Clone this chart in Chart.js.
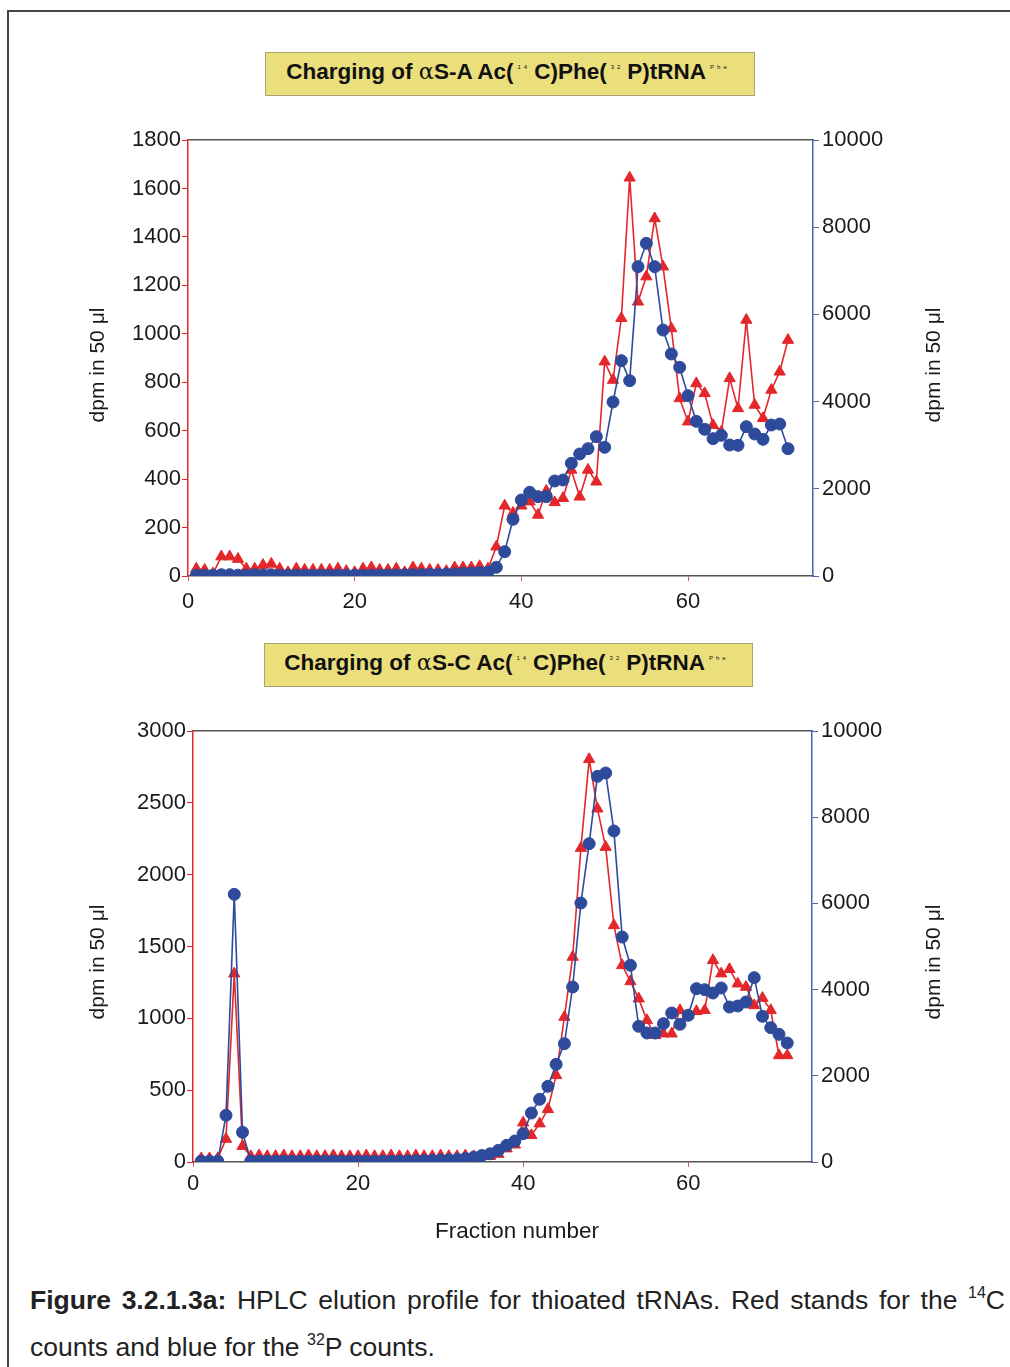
<!DOCTYPE html>
<html>
<head>
<meta charset="utf-8">
<script src="https://cdn.jsdelivr.net/npm/chart.js@4.4.0/dist/chart.umd.min.js"></script>
<style>
  body { margin: 0; background: #fff; width: 1010px; height: 1367px; position: relative; overflow: hidden;
         font-family: "Liberation Sans", Arial, sans-serif; color: #1a1a1a; }
  .frame-top { position: absolute; left: 7px; top: 10px; width: 1003px; height: 2px; background: #444; }
  .frame-left { position: absolute; left: 7px; top: 10px; width: 2px; height: 1357px; background: #444; }
  .titlebox { position: absolute; background: #ebdf7c; border: 1px solid #a9a273; font-weight: bold;
              font-size: 22.5px; color: #111; text-align: center; line-height: 36px; }
  .titlebox sup { font-size: 6px; font-weight: normal; letter-spacing: 3px; line-height: 0;
                  position: relative; top: -10px; vertical-align: baseline; padding: 0 4px; }
  .alpha { font-family: "DejaVu Serif", serif; font-weight: normal; }
  .ytitle { position: absolute; width: 200px; height: 24px; line-height: 24px; text-align: center;
            font-size: 21px; transform: rotate(-90deg); }
  .xtitle { position: absolute; width: 300px; text-align: center; font-size: 22.5px; }
  canvas { position: absolute; left: 0; }
  .caption { position: absolute; left: 30px; top: 1277px; width: 975px;
             font-size: 26.5px; line-height: 47px; color: #222; }
  .caption .l1 { text-align: justify; text-align-last: justify; }
  .caption sup { font-size: 16px; vertical-align: 11px; line-height: 0; }
</style>
</head>
<body>
<div class="frame-top"></div>
<div class="frame-left"></div>

<div class="titlebox" style="left:265px; top:52px; width:488px; height:42px;">Charging of <span class="alpha">α</span>S-A Ac(<sup>14</sup>C)Phe(<sup>32</sup>P)tRNA<sup>Phe</sup></div>
<div class="titlebox" style="left:264px; top:643px; width:487px; height:42px;">Charging of <span class="alpha">α</span>S-C Ac(<sup>14</sup>C)Phe(<sup>32</sup>P)tRNA<sup>Phe</sup></div>

<canvas id="chartTop" width="1010" height="540" style="top:100px;"></canvas>
<canvas id="chartBottom" width="1010" height="540" style="top:690px;"></canvas>

<div class="ytitle" style="left:-3px; top:353px;">dpm in 50 μl</div>
<div class="ytitle" style="left:833px; top:353px;">dpm in 50 μl</div>
<div class="ytitle" style="left:-3px; top:950px;">dpm in 50 μl</div>
<div class="ytitle" style="left:833px; top:950px;">dpm in 50 μl</div>
<div class="xtitle" style="left:367px; top:1218px;">Fraction number</div>

<div class="caption">
  <div class="l1"><b>Figure 3.2.1.3a:</b> HPLC elution profile for thioated tRNAs. Red stands for the <sup>14</sup>C</div>
  <div>counts and blue for the <sup>32</sup>P counts.</div>
</div>

<script>
// fraction numbers (x)
const fractions = [1, 2, 3, 4, 5, 6, 7, 8, 9, 10, 11, 12, 13, 14, 15, 16, 17, 18, 19, 20,
  21, 22, 23, 24, 25, 26, 27, 28, 29, 30, 31, 32, 33, 34, 35, 36, 37, 38, 39, 40,
  41, 42, 43, 44, 45, 46, 47, 48, 49, 50, 51, 52, 53, 54, 55, 56, 57, 58, 59, 60,
  61, 62, 63, 64, 65, 66, 67, 68, 69, 70, 71, 72];

// aS-A : 14C (red, left axis) and 32P (blue, right axis)
const topC14 = [30, 25, 10, 80, 80, 70, 30, 30, 45, 50,
  30, 15, 30, 25, 25, 25, 25, 30, 20, 15,
  30, 35, 25, 25, 30, 15, 35, 30, 25, 25,
  20, 35, 35, 35, 40, 30, 121, 290, 260, 290,
  307, 252, 351, 304, 321, 438, 327, 438, 389, 885,
  809, 1064, 1644, 1132, 1236, 1476, 1277, 1022, 733, 637,
  795, 754, 623, 595, 816, 692, 1057, 706, 651, 768,
  843, 974];
const topP32 = [20, 20, 20, 30, 30, 20, 20, 30, 30, 30,
  20, 20, 20, 20, 20, 20, 20, 20, 20, 20,
  20, 20, 25, 25, 25, 30, 30, 35, 40, 40,
  45, 50, 60, 70, 80, 90, 200, 558, 1300, 1743,
  1919, 1820, 1820, 2179, 2202, 2584, 2798, 2920, 3196, 2951,
  3991, 4939, 4480, 7095, 7630, 7095, 5642, 5092, 4786, 4136,
  3547, 3364, 3150, 3226, 3004, 2997, 3425, 3257, 3134, 3463,
  3486, 2920];

// aS-C
const botC14 = [25, 25, 25, 160, 1311, 110, 40, 45, 40, 40,
  45, 40, 40, 45, 40, 40, 45, 40, 40, 40,
  45, 40, 40, 45, 40, 40, 45, 40, 40, 45,
  40, 40, 45, 40, 40, 40, 55, 93, 120, 274,
  186, 267, 367, 603, 1009, 1427, 2185, 2803, 2459, 2192,
  1647, 1369, 1257, 1137, 986, 882, 893, 893, 1056, 1021,
  1049, 1056, 1404, 1311, 1341, 1241, 1218, 1090, 1141, 1056,
  742, 742];
const botP32 = [20, 20, 20, 1083, 6210, 690, 20, 20, 20, 20,
  20, 20, 20, 20, 20, 20, 20, 20, 20, 20,
  20, 20, 20, 20, 20, 25, 30, 35, 40, 45,
  50, 60, 80, 110, 150, 190, 270, 387, 487, 657,
  1137, 1454, 1756, 2266, 2746, 4060, 6009, 7386, 8948, 9026,
  7680, 5220, 4563, 3148, 2993, 2993, 3210, 3457, 3194, 3403,
  4022, 3998, 3921, 4037, 3596, 3619, 3712, 4277, 3380, 3117,
  2962, 2761];

// tick labels
const xTicks = [0, 20, 40, 60];
const topLeftTicks = [0, 200, 400, 600, 800, 1000, 1200, 1400, 1600, 1800];
const botLeftTicks = [0, 500, 1000, 1500, 2000, 2500, 3000];
const rightTicks = [0, 2000, 4000, 6000, 8000, 10000];

const RED = '#e3272b';
const BLUE = '#2d4a9b';
const FONT = '"Liberation Sans", Arial, sans-serif';

function pts(ys) {
  return fractions.map((f, i) => ({x: f, y: ys[i]}));
}

function setTicks(list) {
  return function(scale) { scale.ticks = list.map(v => ({value: v})); };
}

function plain(v) { return String(v); }

function make_chart(canvas_id, c14, p32, leftTicks, g) {
  return new Chart(document.getElementById(canvas_id), {
    type: 'line',
    data: {
      datasets: [{
        label: '32P',
        data: pts(p32),
        yAxisID: 'yR',
        borderColor: BLUE,
        backgroundColor: BLUE,
        borderWidth: 1.6,
        pointStyle: 'circle',
        pointRadius: 6,
        pointBorderWidth: 1
      }, {
        label: '14C',
        data: pts(c14),
        yAxisID: 'yL',
        borderColor: RED,
        backgroundColor: RED,
        borderWidth: 1.6,
        pointStyle: 'triangle',
        pointRadius: 6.5,
        pointBorderWidth: 1
      }]
    },
    options: {
      responsive: false,
      animation: false,
      devicePixelRatio: 1,
      layout: { padding: { left: 82, right: 62, top: g.top, bottom: 0 } },
      plugins: { legend: { display: false }, tooltip: { enabled: false } },
      scales: {
        x: {
          type: 'linear', position: 'bottom', min: 0, max: 75,
          afterBuildTicks: setTicks(xTicks),
          afterFit: s => { s.height = g.xH; },
          grid: { drawOnChartArea: false, tickLength: 5, color: '#c06060', lineWidth: 1 },
          border: { color: '#555', width: 1.5 },
          ticks: { padding: g.xPad, maxRotation: 0, color: '#1a1a1a', callback: plain, font: { size: 22, family: FONT } }
        },
        xTop: {
          type: 'linear', position: 'top', min: 0, max: 75,
          afterFit: s => { s.height = 0; },
          grid: { drawOnChartArea: false, drawTicks: false },
          border: { color: '#555', width: 1.5 },
          ticks: { display: false }
        },
        yL: {
          type: 'linear', position: 'left', min: 0, max: leftTicks[leftTicks.length - 1],
          afterBuildTicks: setTicks(leftTicks),
          afterFit: s => { s.width = g.leftW; },
          grid: { drawOnChartArea: false, tickLength: 6, color: RED },
          border: { color: RED, width: 1.5 },
          ticks: { padding: 1, color: '#1a1a1a', callback: plain, font: { size: 22, family: FONT } }
        },
        yR: {
          type: 'linear', position: 'right', min: 0, max: 10000,
          afterBuildTicks: setTicks(rightTicks),
          afterFit: s => { s.width = g.rightW; },
          grid: { drawOnChartArea: false, tickLength: 6, color: '#4a64ad' },
          border: { color: '#4a64ad', width: 1.5 },
          ticks: { padding: 3, color: '#1a1a1a', callback: plain, font: { size: 22, family: FONT } }
        }
      }
    }
  });
}

make_chart('chartTop', topC14, topP32, topLeftTicks, { top: 40, xH: 64, xPad: 8, leftW: 106, rightW: 135 });
make_chart('chartBottom', botC14, botP32, botLeftTicks, { top: 41, xH: 68, xPad: 4, leftW: 111, rightW: 136 });
</script>
</body>
</html>
